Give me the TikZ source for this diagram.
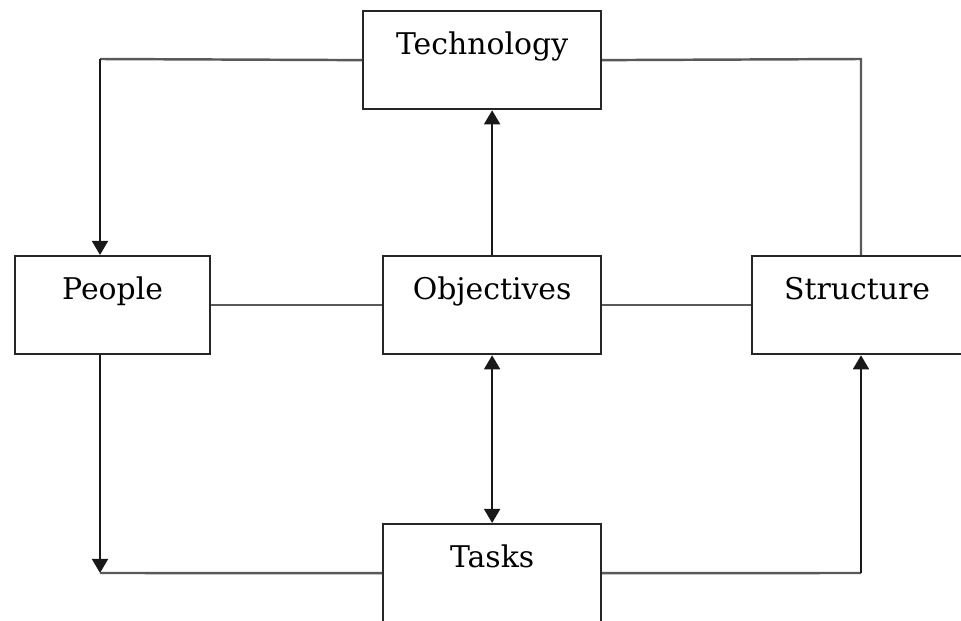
\documentclass[tikz,border=0pt]{standalone}
\usepackage{fontspec}
\setmainfont{DejaVu Serif}
\usetikzlibrary{arrows.meta, positioning, calc}

\tikzset{
  box/.style={draw=black!85, line width=1.3pt, fill=white, minimum width=#1,
    inner xsep=0pt, inner ysep=0pt, text height=0.86cm, text depth=1.1cm,
    font=\fontsize{17}{20}\selectfont, anchor=north west},
  link/.style={draw=black!65, line width=1.4pt},
  arr/.style={draw=black!90, line width=1.4pt, -{Triangle[length=8pt,width=9pt]}},
}

\begin{document}
\begin{tikzpicture}[x=0.02cm, y=-0.02cm]
\useasboundingbox (0,0) rectangle (961,621);

% the five boxes
\node[box=4.76cm] (tech)   at (362,10)  {Technology};
\node[box=3.9cm]  (people) at (14,255)  {People};
\node[box=4.36cm] (obj)    at (382,255) {Objectives};
\node[box=4.2cm]  (struct) at (751,255) {Structure};
\node[box=4.36cm] (tasks)  at (382,523) {Tasks};

% corners of the outer loop
\coordinate (tl) at (100,59);
\coordinate (tr) at (861,59);
\coordinate (bl) at (100,573);
\coordinate (br) at (861,573);

% top half
\draw[link] (tech.west) -- (tl);
\draw[arr] (tl) -- (tl |- people.north);
\draw[link] (tech.east) -- (tr) -- (tr |- struct.north);
\draw[arr] (obj.north) -- (obj.north |- tech.south);

% middle row
\draw[link] (people.east) -- (obj.west);
\draw[link] (obj.east) -- (struct.west);
\draw[arr, {Triangle[length=8pt,width=9pt]}-{Triangle[length=8pt,width=9pt]}] (obj.south) -- (tasks.north);

% bottom half
\draw[arr] (bl |- people.south) -- (bl);
\draw[link] (bl) -- (tasks.west);
\draw[link] (tasks.east) -- (br);
\draw[arr] (br) -- (br |- struct.south);
\end{tikzpicture}
\end{document}
